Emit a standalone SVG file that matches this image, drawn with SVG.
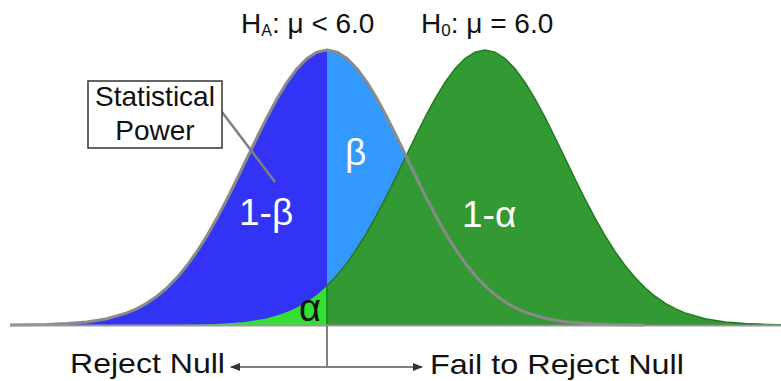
<svg xmlns="http://www.w3.org/2000/svg" width="781" height="381" viewBox="0 0 781 381">
<style>
text{font-family:"Liberation Sans",Arial,sans-serif;}
.lbl{fill:#111;font-size:28px;}
.big{fill:#fff;font-size:37px;}
.conn{stroke:#808080;stroke-width:2.5;fill:none;}
</style>
<defs>
<marker id="ah" viewBox="0 0 10 8" refX="9" refY="4" markerWidth="10" markerHeight="8" markerUnits="userSpaceOnUse" orient="auto">
<path d="M0,0 L10,4 L0,8 Z" fill="#333"/>
</marker>
</defs>
<rect width="781" height="381" fill="#fff"/>
<g id="power-region">
<path fill="#3333f5" d="M327,325 L10,325 L27,324.75 L47,324.4 L67,323.6 L87,322 L107,318.7 L127,312.9 L137,308.6 L147,303.1 L157,296.2 L167,287.8 L177,277.6 L187,265.5 L197,251.5 L207,235.7 L217,218.1 L227,199.1 L237,179 L247,158.2 L257,137.5 L267,117.4 L277,98.8 L287,82.3 L297,68.7 L307,58.5 L317,52.1 L327,50 Z"/>
</g>
<g id="beta-region">
<path fill="#3399ff" d="M327,50 L337,52.1 L347,58.5 L357,68.7 L367,82.3 L377,98.8 L387,117.4 L397,137.5 L407,158.2 L417,179 L427,199.1 L437,218.1 L447,235.7 L457,251.5 L467,265.5 L477,277.6 L487,287.8 L497,296.2 L507,303.1 L517,308.6 L527,312.9 L547,318.7 L567,322 L587,323.6 L607,324.4 L627,324.75 L644,325 L327,325 Z"/>
</g>
<g id="alpha-region">
<path fill="#33e033" d="M327,325 L327,285.9 L317,294.7 L307,301.9 L297,307.6 L287,312.1 L277,315.6 L265,318.7 L245,322 L225,323.6 L205,324.4 L185,324.75 L168,325 Z"/>
</g>
<g id="null-region">
<path fill="#339933" stroke="#217a21" stroke-width="1.5" d="M327,325 L327,285.9 L337,275.3 L347,262.9 L355,251.5 L365,235.7 L375,218.1 L385,199.1 L395,179 L405,158.2 L415,137.5 L425,117.4 L435,98.8 L445,82.3 L455,68.7 L465,58.5 L475,52.1 L485,50 L495,52.1 L505,58.5 L515,68.7 L525,82.3 L535,98.8 L545,117.4 L555,137.5 L565,158.2 L575,179 L585,199.1 L595,218.1 L605,235.7 L615,251.5 L625,265.5 L635,277.6 L645,287.8 L655,296.2 L665,303.1 L675,308.6 L685,312.9 L705,318.7 L725,322 L745,323.6 L765,324.4 L781,324.7 L781,325 Z"/>
</g>
<g id="alt-curve">
<path fill="none" stroke="#8a8a8a" stroke-width="3" stroke-linejoin="round" d="M10,325 L27,324.75 L47,324.4 L67,323.6 L87,322 L107,318.7 L127,312.9 L137,308.6 L147,303.1 L157,296.2 L167,287.8 L177,277.6 L187,265.5 L197,251.5 L207,235.7 L217,218.1 L227,199.1 L237,179 L247,158.2 L257,137.5 L267,117.4 L277,98.8 L287,82.3 L297,68.7 L307,58.5 L317,52.1 L327,50 L337,52.1 L347,58.5 L357,68.7 L367,82.3 L377,98.8 L387,117.4 L397,137.5 L407,158.2 L417,179 L427,199.1 L437,218.1 L447,235.7 L457,251.5 L467,265.5 L477,277.6 L487,287.8 L497,296.2 L507,303.1 L517,308.6 L527,312.9 L547,318.7 L567,322 L587,323.6 L607,324.4 L627,324.75 L644,325"/>
</g>
<g id="axis">
<line x1="10" y1="325.5" x2="781" y2="325.5" stroke="#999" stroke-width="2"/>
</g>
<g id="connectors">
<line class="conn" x1="222" y1="112" x2="275" y2="182"/>
<line x1="327" y1="326" x2="327" y2="367" stroke="#808080" stroke-width="2"/>
<line x1="327" y1="367" x2="231" y2="367" stroke="#808080" stroke-width="2" marker-end="url(#ah)"/>
<line x1="327" y1="367" x2="422" y2="367" stroke="#808080" stroke-width="2" marker-end="url(#ah)"/>
</g>
<g id="label-ha">
<text class="lbl" x="241" y="33">H<tspan font-size="16" dy="3">A</tspan><tspan dy="-3">: μ &lt; 6.0</tspan></text>
</g>
<g id="label-h0">
<text class="lbl" x="421" y="33">H<tspan font-size="17" dy="3">0</tspan><tspan dy="-3">: μ = 6.0</tspan></text>
</g>
<g id="statistical-power">
<rect x="88" y="81" width="134" height="67" fill="#fff" stroke="#333" stroke-width="1.5"/>
<text class="lbl" x="155" y="106" text-anchor="middle">Statistical</text>
<text class="lbl" x="155" y="140" text-anchor="middle">Power</text>
</g>
<g id="label-1-beta"><text class="big" x="239" y="225">1-β</text></g>
<g id="label-beta"><text class="big" x="345" y="165" font-size="33">β</text></g>
<g id="label-1-alpha"><text class="big" x="462" y="227">1-α</text></g>
<g id="label-alpha"><text x="299" y="321" font-size="38" fill="#111">α</text></g>
<g id="label-reject"><text class="lbl" x="70" y="373" font-size="29" textLength="155" lengthAdjust="spacingAndGlyphs">Reject Null</text></g>
<g id="label-fail"><text class="lbl" x="430" y="374" font-size="29" textLength="254" lengthAdjust="spacingAndGlyphs">Fail to Reject Null</text></g>
</svg>
